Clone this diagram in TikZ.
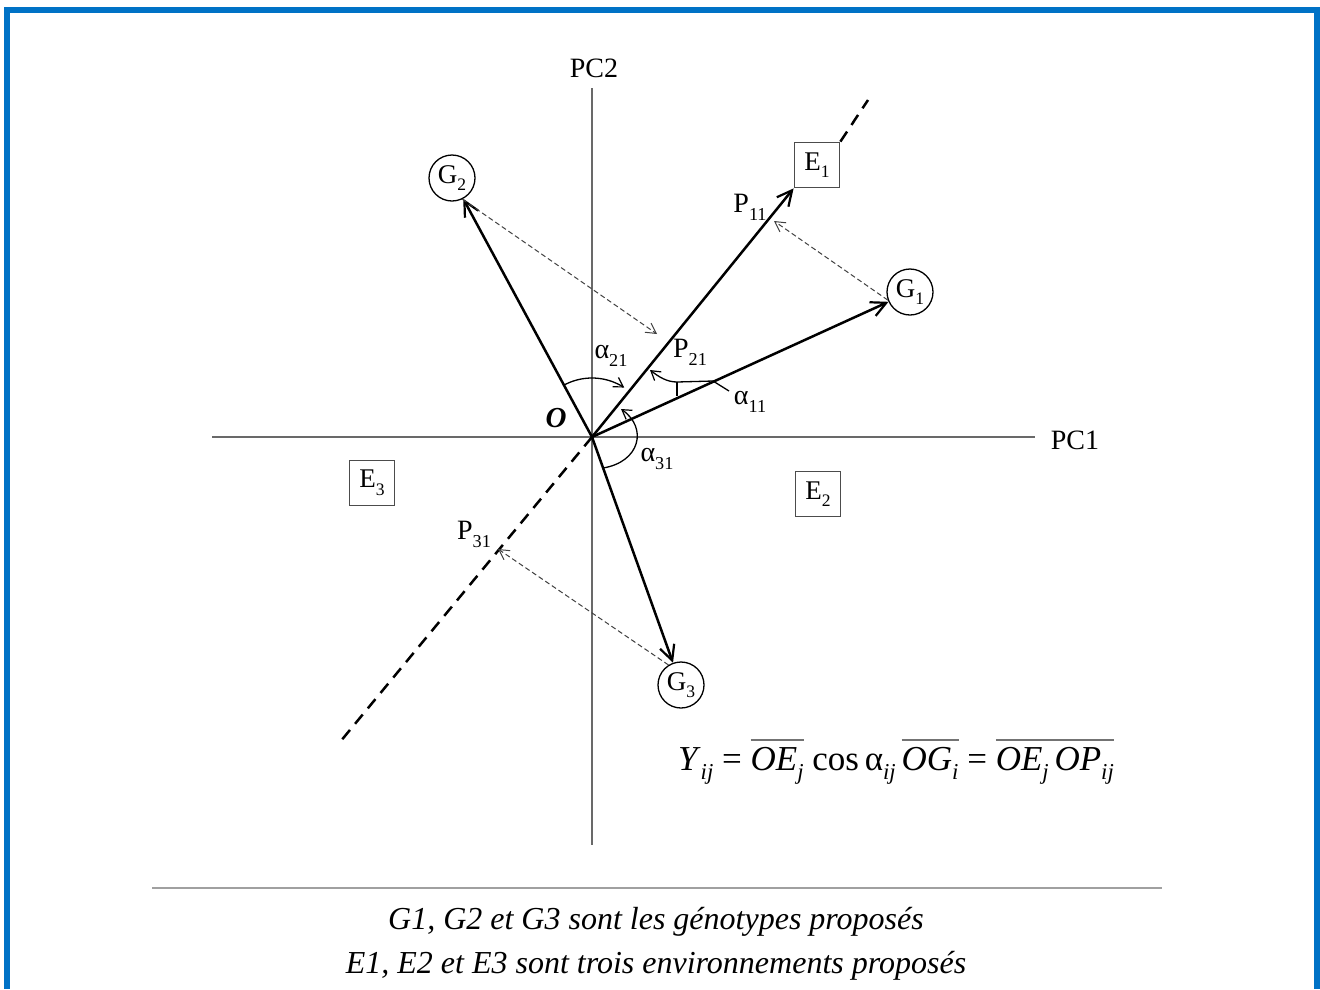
\documentclass[tikz,border=0pt]{standalone}
\usepackage{fontspec}
\setmainfont{Liberation Serif}
\usepackage{graphicx}
\usetikzlibrary{arrows.meta}
\definecolor{frameblue}{RGB}{0,114,198}
\definecolor{axisgray}{RGB}{105,105,105}
\definecolor{rulegray}{RGB}{160,160,160}
\newcommand\sbs[1]{\raisebox{-0.28em}{\scalebox{0.65}{#1}}}
\newcommand\ovl[1]{\leavevmode\vbox{{\color{black!55}\hrule height 1.5pt}\kern 6pt\hbox{#1}}}
\begin{document}
\begin{tikzpicture}[x=1pt,y=-1pt,
  vec/.style={line width=2.5pt,-{Straight Barb[length=15pt,width=15pt,line width=2.2pt]}},
  axisline/.style={line width=2pt,draw=axisgray},
  bigdash/.style={line width=2.5pt,dash pattern=on 12pt off 8pt},
  proj/.style={line width=1pt,draw=black!75,dash pattern=on 5pt off 3pt,-{Straight Barb[length=10pt,width=11pt,line width=1pt]}},
  angarr/.style={line width=1.3pt,-{Straight Barb[length=9pt,width=11pt,line width=1.2pt]}},
  gen/.style={circle,draw,line width=1.3pt,minimum size=46pt,inner sep=0pt,font=\fontsize{27}{30}\selectfont},
  env/.style={rectangle,draw=black!70,line width=1.8pt,minimum size=45pt,inner sep=0pt,font=\fontsize{27}{30}\selectfont},
  lab/.style={inner sep=0pt,font=\fontsize{28}{32}\selectfont},
  captext/.style={inner sep=0pt,font=\fontsize{32}{38}\selectfont\itshape}]
\useasboundingbox (0,0) rectangle (1320,989);
% frame
\fill[frameblue] (4,7) rectangle (10,989);
\fill[frameblue] (4,7) rectangle (1320,13);
\fill[frameblue] (1314,7) rectangle (1320,989);
% coordinates
\coordinate (O) at (592,437);
\coordinate (xl) at (212,437);
\coordinate (xr) at (1035,437);
\coordinate (yt) at (592,88);
\coordinate (yb) at (592,845);
\coordinate (dlow) at (340,742);
\coordinate (dhigh) at (868,100);
\coordinate (p11) at (774,221);
\coordinate (p21) at (657,334);
\coordinate (p31) at (498,549);
% axes
\draw[axisline] (xl) -- (xr);
\draw[axisline] (yt) -- (yb);
\node[lab] (pc1) at (1075,440) {PC1};
\node[lab] (pc2) at (594,68) {PC2};
% nodes
\node[env] (E1) at (817,165) {E\sbs{1}};
\node[env] (E2) at (818,494) {E\sbs{2}};
\node[env] (E3) at (372,483) {E\sbs{3}};
\node[gen] (G1) at (910,292) {G\sbs{1}};
\node[gen] (G2) at (452,178) {G\sbs{2}};
\node[gen] (G3) at (681,685) {G\sbs{3}};
% dashed environment axis
\draw[bigdash] (O) -- (dlow);
\draw[bigdash] (E1.north east) -- (dhigh);
% vectors
\draw[vec] (O) -- (E1.south west);
\draw[vec] (O) -- (G1);
\draw[vec] (O) -- (G2);
\draw[vec] (O) -- (G3);
% projections
\draw[proj] (G1.200) -- (p11);
\draw[proj] (G2.-64) -- (p21);
\draw[proj] (G3.122) -- (p31);
% angles
\draw[angarr,shift={(O)}] plot[smooth,domain=118:57,samples=25] (\x:59pt);
\draw[line width=1.3pt] (677,396) -- (677,382);
\draw[angarr] (729,391) -- (713,381) -- (677,382) .. controls (667,382) and (659,377) .. (650,370);
\draw[angarr] (603,468) .. controls (640,462) and (648,428) .. (621,409);
% labels
\node[lab,font=\fontsize{29}{32}\selectfont\bfseries\itshape] (olab) at (556,418) {O};
\node[lab] (l11) at (750,207) {P\sbs{11}};
\node[lab] (l21) at (690,352) {P\sbs{21}};
\node[lab] (l31) at (474,534) {P\sbs{31}};
\node[lab] (a21) at (611,356) {α\sbs{21}};
\node[lab] (a11) at (750,402) {α\sbs{11}};
\node[lab] (a31) at (657,459) {α\sbs{31}};
% formula
\node[inner sep=0pt,anchor=base,font=\fontsize{35}{40}\selectfont] (F) at (896,770)
 {\textit{Y}\sbs{\textit{ij}} = \ovl{\textit{OE}\sbs{\textit{j}}} cos\,α\sbs{\textit{ij}}\,\ovl{\textit{OG}\sbs{\textit{i}}} = \ovl{\textit{OE}\sbs{\textit{j}}\,}\ovl{\textit{OP}\sbs{\textit{ij}}}};
% separator and caption
\coordinate (sl) at (152,888);
\coordinate (sr) at (1162,888);
\draw[rulegray,line width=2.5pt] (sl) -- (sr);
\node[captext] (c1) at (656,922) {G1, G2 et G3 sont les génotypes proposés};
\node[captext] (c2) at (656,966) {E1, E2 et E3 sont trois environnements proposés};
\end{tikzpicture}
\end{document}
